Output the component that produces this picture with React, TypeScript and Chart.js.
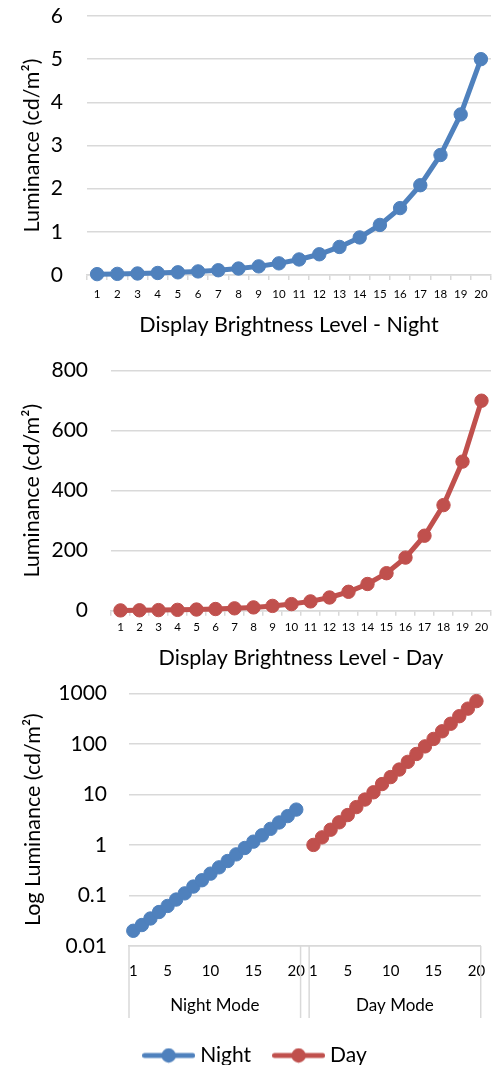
import React, { useEffect, useRef } from 'react';
import { Chart, registerables } from 'chart.js';

Chart.register(...registerables);
Chart.defaults.font.family = 'Lato, "Open Sans", sans-serif';
Chart.defaults.color = '#000';

// ---------- data ----------
const levels = ['1', '2', '3', '4', '5', '6', '7', '8', '9', '10', '11', '12', '13', '14', '15', '16', '17', '18', '19', '20'];
const nightLuminance = [0.02, 0.026, 0.035, 0.047, 0.062, 0.083, 0.11, 0.15, 0.2, 0.27, 0.36, 0.48, 0.65, 0.87, 1.16, 1.55, 2.08, 2.78, 3.72, 5.0];
const dayLuminance = [1.0, 1.41, 2.0, 2.8, 3.9, 5.6, 7.9, 11, 16, 22, 31, 44, 63, 89, 125, 177, 250, 352, 497, 700];
const seriesNames = ['Night', 'Day'];
const groupLabels = ['Night Mode', 'Day Mode'];
const logTickValues = [0.01, 0.1, 1, 10, 100, 1000];
const logTickLabels = ['0.01', '0.1', '1', '10', '100', '1000'];
const logShownLevels = ['1', '5', '10', '15', '20'];
const yTitle = 'Luminance (cd/m\u00B2)';
const yTitleLog = 'Log Luminance (cd/m\u00B2)';
const xTitleNight = 'Display Brightness Level - Night';
const xTitleDay = 'Display Brightness Level - Day';

// ---------- style ----------
const BLUE = '#4F81BD';
const RED = '#C0504D';
const GRID = '#D9D9D9';
const TITLE_FONT = 21.5;
const TITLE_HALF = (TITLE_FONT * 1.2) / 2;
const YTICK_FONT = 21;

function lineDataset(label: string, data: (number | null)[], color: string) {
  return {
    label,
    data,
    borderColor: color,
    backgroundColor: color,
    borderWidth: 5,
    pointRadius: 6.7,
    pointHoverRadius: 6.7,
    pointBorderWidth: 1,
    pointBackgroundColor: color,
    pointBorderColor: color,
    tension: 0,
    clip: false as const,
    spanGaps: false,
  };
}

function legendImage(color: string) {
  const c = document.createElement('canvas');
  c.width = 53;
  c.height = 16;
  const ctx = c.getContext('2d')!;
  ctx.strokeStyle = color;
  ctx.lineWidth = 5;
  ctx.lineCap = 'round';
  ctx.beginPath();
  ctx.moveTo(2.5, 8);
  ctx.lineTo(50.5, 8);
  ctx.stroke();
  ctx.fillStyle = color;
  ctx.beginPath();
  ctx.arc(26.5, 8, 7.2, 0, Math.PI * 2);
  ctx.fill();
  return c;
}

function fixY(width: number) {
  return (s: any) => {
    s.width = width;
    s.paddingTop = 0;
    s.paddingBottom = 0;
  };
}

function linearConfig(opts: {
  height: number;
  top: number;
  bottom: number;
  axisW: number;
  xTitle: string;
  data: number[];
  color: string;
  label: string;
  max: number;
  step: number;
  xTickPad: number;
  titleCenterY: number;
  yTickPad: number;
  yTitleX: number;
}): any {
  return {
    type: 'line',
    data: { labels: levels, datasets: [lineDataset(opts.label, opts.data, opts.color)] },
    options: {
      animation: false,
      responsive: false,
      maintainAspectRatio: false,
      events: [],
      layout: { padding: { top: opts.top, right: 10, left: 0, bottom: 0 } },
      plugins: { legend: { display: false }, tooltip: { enabled: false } },
      scales: {
        x: {
          type: 'category',
          offset: true,
          grid: { offset: true, drawOnChartArea: false, drawTicks: true, tickLength: 5, color: GRID, lineWidth: 1.5 },
          border: { display: true, color: GRID, width: 1.5 },
          ticks: { font: { size: 11.5 }, padding: opts.xTickPad, maxRotation: 0, autoSkip: false },
          title: {
            display: true,
            text: opts.xTitle,
            font: { size: TITLE_FONT },
            padding: { top: 0, bottom: opts.height - TITLE_HALF - opts.titleCenterY },
          },
          afterFit: (s: any) => {
            s.height = opts.height - opts.bottom;
          },
        },
        y: {
          min: 0,
          max: opts.max,
          ticks: { stepSize: opts.step, font: { size: YTICK_FONT }, padding: opts.yTickPad },
          grid: { color: GRID, lineWidth: 1.5, drawTicks: false },
          border: { display: false },
          title: {
            display: true,
            text: yTitle,
            font: { size: TITLE_FONT },
            padding: { top: opts.yTitleX - TITLE_HALF, bottom: 0 },
          },
          afterFit: fixY(opts.axisW),
        },
      },
    },
  };
}

const groupPlugin = {
  id: 'groupAxis',
  afterDraw(chart: any) {
    const xs = chart.scales.x;
    const { left, right, bottom } = chart.chartArea;
    const half = (xs.getPixelForValue(1) - xs.getPixelForValue(0)) / 2;
    const n = nightLuminance.length;
    const b1 = xs.getPixelForValue(n - 1) + half;
    const b2 = xs.getPixelForValue(n) + half;
    const ctx = chart.ctx;
    ctx.save();
    ctx.strokeStyle = GRID;
    ctx.lineWidth = 1.5;
    [left, b1, b2, right].forEach((x) => {
      ctx.beginPath();
      ctx.moveTo(x, bottom);
      ctx.lineTo(x, bottom + 72);
      ctx.stroke();
    });
    ctx.fillStyle = '#000';
    ctx.font = '17px Lato, "Open Sans", sans-serif';
    ctx.textAlign = 'center';
    ctx.textBaseline = 'middle';
    ctx.fillText(groupLabels[0], (left + b1) / 2, bottom + 60);
    ctx.fillText(groupLabels[1], (b2 + right) / 2, bottom + 60);
    ctx.restore();
  },
};

function logConfig(): any {
  const gap = [null];
  const nightPad = dayLuminance.map(() => null);
  const dayPad = nightLuminance.map(() => null);
  const labels = [...levels, '', ...levels];
  const images = [legendImage(BLUE), legendImage(RED)];
  const axisLeft = 26.5;
  return {
    type: 'line',
    data: {
      labels,
      datasets: [
        lineDataset(seriesNames[0], [...nightLuminance, ...gap, ...nightPad], BLUE),
        lineDataset(seriesNames[1], [...dayPad, ...gap, ...dayLuminance], RED),
      ],
    },
    plugins: [groupPlugin],
    options: {
      animation: false,
      responsive: false,
      maintainAspectRatio: false,
      events: [],
      layout: { padding: { top: 13.3, right: 13, left: axisLeft, bottom: 0 } },
      plugins: {
        tooltip: { enabled: false },
        legend: {
          display: true,
          position: 'bottom',
          labels: {
            usePointStyle: true,
            pointStyleWidth: 42,
            padding: 26.5,
            font: { size: 21 },
            color: '#000',
            generateLabels: (chart: any) =>
              Chart.defaults.plugins.legend.labels.generateLabels(chart).map((it: any, i: number) => ({
                ...it,
                pointStyle: images[i],
              })),
          },
        },
      },
      scales: {
        x: {
          type: 'category',
          offset: true,
          grid: { display: false, drawTicks: false },
          border: { display: true, color: GRID, width: 1.5 },
          ticks: {
            font: { size: 15 },
            padding: 15.7,
            maxRotation: 0,
            autoSkip: false,
            callback: function (this: any, v: any) {
              const l = this.getLabelForValue(v);
              return logShownLevels.includes(l) ? l : '';
            },
          },
          afterFit: (s: any) => {
            s.height = 72.5;
          },
        },
        y: {
          type: 'logarithmic',
          min: 0.01,
          max: 1000,
          afterBuildTicks: (s: any) => {
            s.ticks = logTickValues.map((v) => ({ value: v, major: true }));
          },
          ticks: {
            font: { size: YTICK_FONT },
            padding: 22,
            autoSkip: false,
            callback: (_v: any, i: number) => logTickLabels[i],
          },
          grid: { color: GRID, lineWidth: 1.5, drawTicks: false },
          border: { display: false },
          title: {
            display: true,
            text: yTitleLog,
            font: { size: TITLE_FONT },
            padding: { top: 33 - axisLeft - TITLE_HALF, bottom: 0 },
          },
          afterFit: fixY(129 - axisLeft),
        },
      },
    },
  };
}

function ChartBox({ top, height, build }: { top: number; height: number; build: () => any }) {
  const ref = useRef<HTMLCanvasElement>(null);
  useEffect(() => {
    const chart = new Chart(ref.current!, build());
    return () => chart.destroy();
  }, []);
  return (
    <canvas
      ref={ref}
      width={501}
      height={height}
      style={{ position: 'absolute', left: 0, top, width: 501, height, display: 'block' }}
    />
  );
}

export default function App() {
  return (
    <div style={{ position: 'absolute', left: 0, top: 0, width: 501, height: 1065, overflow: 'hidden', background: '#fff' }}>
      <ChartBox
        top={0}
        height={345}
        build={() =>
          linearConfig({
            height: 345, top: 16, bottom: 275, axisW: 87, xTitle: xTitleNight, data: nightLuminance,
            color: BLUE, label: seriesNames[0], max: 6, step: 1, xTickPad: 7.2, titleCenterY: 325,
            yTickPad: 24, yTitleX: 32,
          })
        }
      />
      <ChartBox
        top={345}
        height={335}
        build={() =>
          linearConfig({
            height: 335, top: 25.7, bottom: 265.7, axisW: 111, xTitle: xTitleDay, data: dayLuminance,
            color: RED, label: seriesNames[1], max: 800, step: 200, xTickPad: 5, titleCenterY: 313,
            yTickPad: 23, yTitleX: 32,
          })
        }
      />
      <ChartBox top={680} height={396} build={logConfig} />
    </div>
  );
}
